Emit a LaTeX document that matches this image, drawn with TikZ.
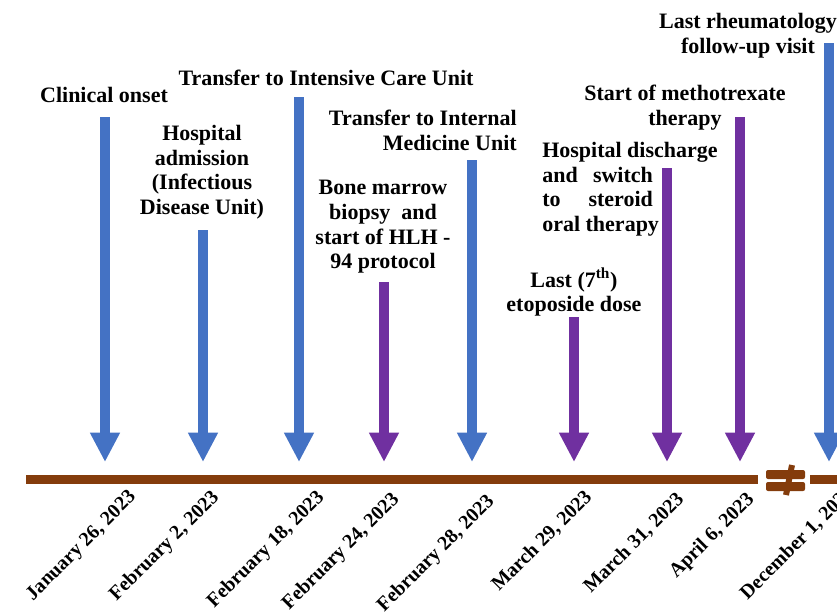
\documentclass[tikz,border=0pt]{standalone}
\usepackage{fontspec}
\setmainfont{Liberation Serif}
\usetikzlibrary{arrows.meta}
\definecolor{eventblue}{RGB}{68,114,196}
\definecolor{eventpurple}{RGB}{112,48,160}
\definecolor{axisbrown}{RGB}{132,60,12}

\begin{document}
\begin{tikzpicture}[x=0.75pt,y=-0.75pt,
        event/.style={line width=7pt,-{Triangle[width=21pt,length=22pt]}},
        label/.style={font=\fontsize{16.5}{18.5}\selectfont\bfseries,inner sep=0pt,align=center,anchor=north},
        date/.style={font=\fontsize{15}{17}\selectfont\bfseries,inner sep=0pt,rotate=45,anchor=north east},
        axis/.style={axisbrown,line width=6.75pt}]

                \useasboundingbox (0,0) rectangle (837,612);

                \coordinate (T1) at (105,117);
                \coordinate (T2) at (203,230);
                \coordinate (T3) at (299,97);
                \coordinate (T4) at (384,282);
                \coordinate (T5) at (472,160);
                \coordinate (T6) at (574,317);
                \coordinate (T7) at (667,168);
                \coordinate (T8) at (740,117);
                \coordinate (T9) at (829,43);

                \coordinate (E1) at (105,462);
                \coordinate (E2) at (203,462);
                \coordinate (E3) at (299,462);
                \coordinate (E4) at (384,462);
                \coordinate (E5) at (472,462);
                \coordinate (E6) at (574,462);
                \coordinate (E7) at (667,462);
                \coordinate (E8) at (740,462);
                \coordinate (E9) at (829,462);

                \coordinate (L0) at (26,479);
                \coordinate (L1) at (758,479);
                \coordinate (L2) at (810,479);
                \coordinate (L3) at (840,479);

                \draw[axis] (L0) -- (L1);
                \draw[axis] (L2) -- (L3);
                \fill[axisbrown,rounded corners=1.5pt] (766,470) rectangle (805,479);
                \fill[axisbrown,rounded corners=1.5pt] (766,482) rectangle (805,491);
                \draw[axisbrown,line width=4.5pt] (792,465) -- (786,495);

                \draw[event,eventblue] (T1) -- (E1);
                \draw[event,eventblue] (T2) -- (E2);
                \draw[event,eventblue] (T3) -- (E3);
                \draw[event,eventpurple] (T4) -- (E4);
                \draw[event,eventblue] (T5) -- (E5);
                \draw[event,eventpurple] (T6) -- (E6);
                \draw[event,eventpurple] (T7) -- (E7);
                \draw[event,eventpurple] (T8) -- (E8);
                \draw[event,eventblue] (T9) -- (E9);

                \node[label] (onset) at (104,87) {Clinical onset};
                \node[label] (admission) at (202,125) {Hospital\\admission\\(Infectious\\Disease Unit)};
                \node[label] (icu) at (326,70) {Transfer to Intensive Care Unit};
                \node[label] (marrow) at (383,180) {Bone marrow\\biopsy~ and\\start of HLH -\\94 protocol};
                \node[label,align=right,anchor=north east] (internal) at (517,110) {Transfer to Internal\\Medicine Unit};
                \node[label] (etoposide) at (574,268) {Last (7\textsuperscript{th})\\etoposide dose};
                \node[label,align=left,anchor=north west] (discharge) at (542,142) {Hospital discharge\\\makebox[83pt][s]{and\hfill switch}\\\makebox[83pt][s]{to\hfill steroid}\\oral therapy};
                \node[label] (methotrexate) at (685,85) {Start of methotrexate\\therapy};
                \node[label] (rheumatology) at (748,13) {Last rheumatology\\follow-up visit};

                \node[date] (D1) at (127,488) {January 26, 2023};
                \node[date] (D2) at (210,488) {February 2, 2023};
                \node[date] (D3) at (315,488) {February 18, 2023};
                \node[date] (D4) at (390,490) {February 24, 2023};
                \node[date] (D5) at (485,492) {February 28, 2023};
                \node[date] (D6) at (583,488) {March 29, 2023};
                \node[date] (D7) at (675,490) {March 31, 2023};
                \node[date] (D8) at (745,490) {April 6, 2023};
                \node[date] (D9) at (845,483) {December 1, 2023};

                \end{tikzpicture}
\end{document}
